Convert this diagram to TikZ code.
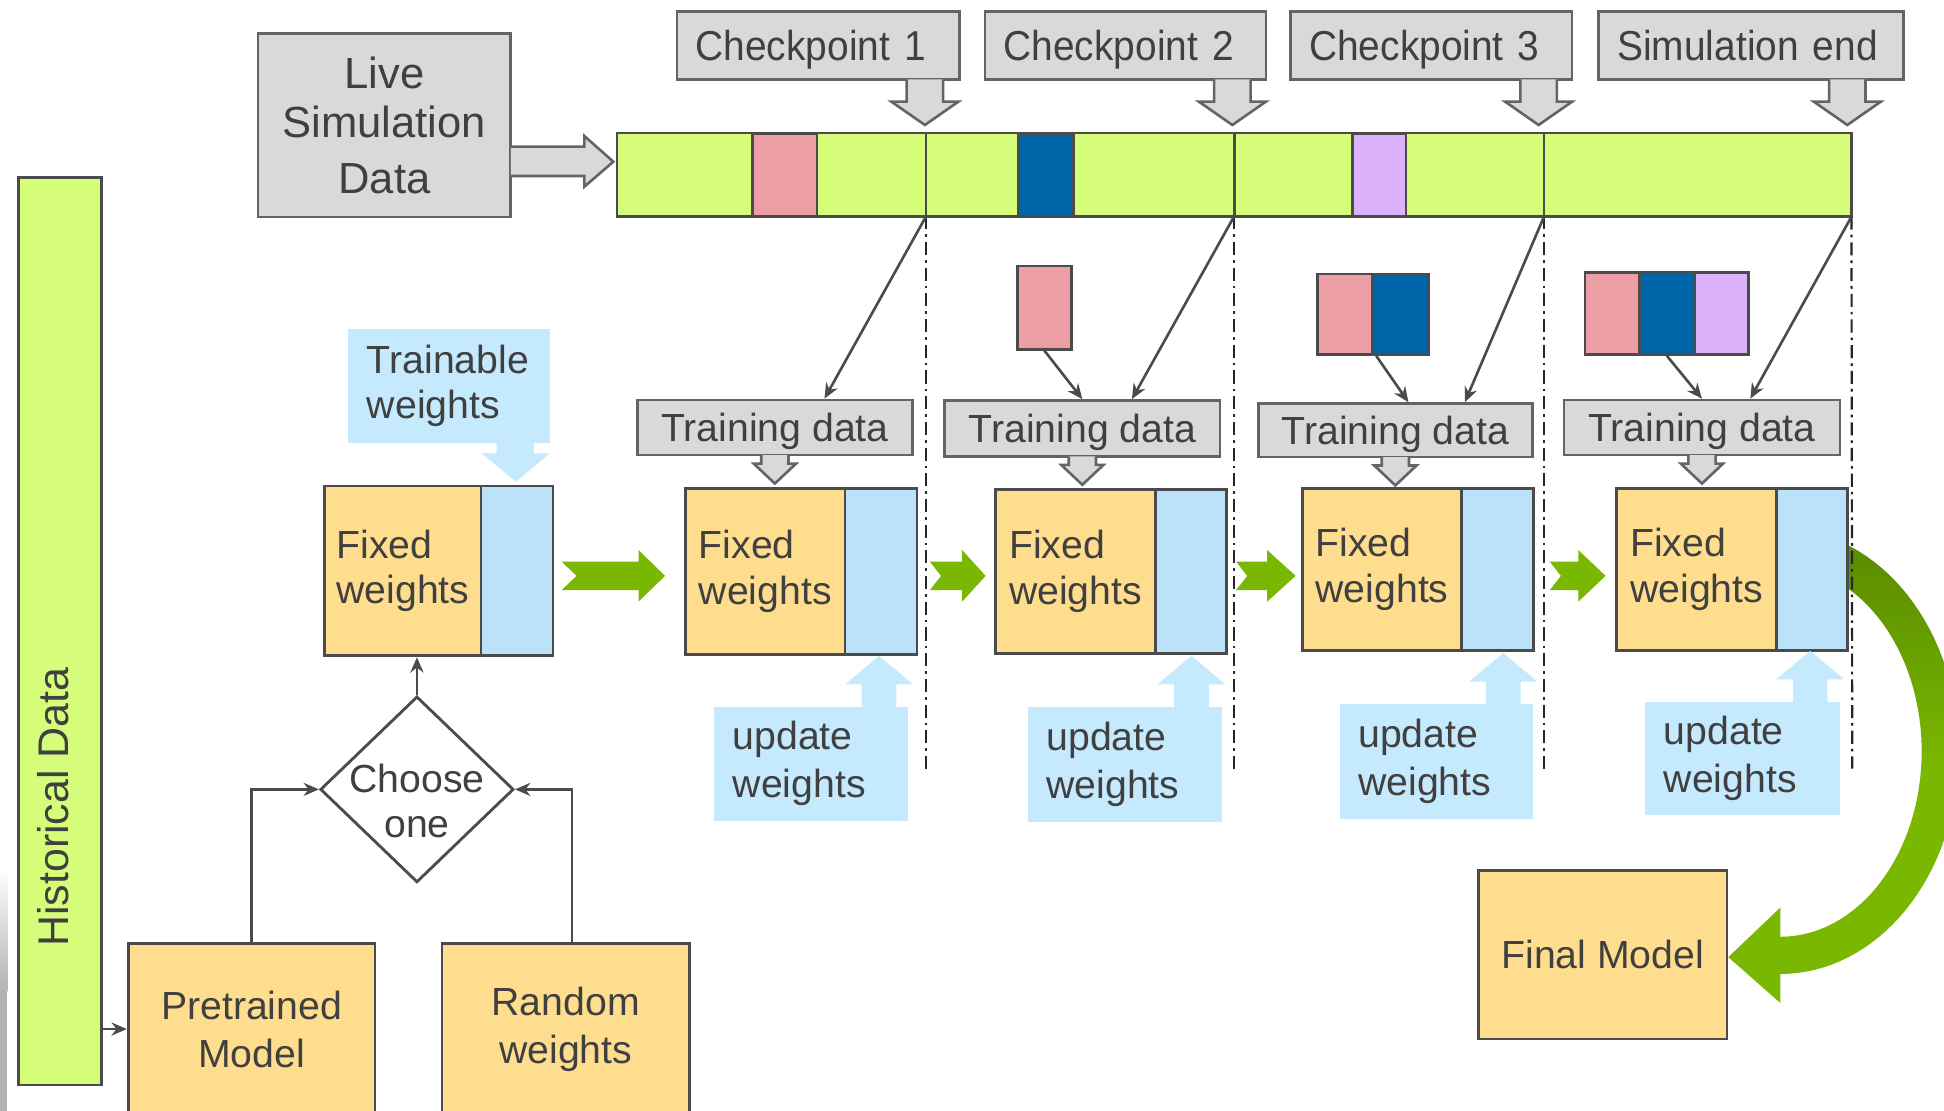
\documentclass[tikz,border=0pt]{standalone}
\usepackage{fontspec}
\setmainfont{Liberation Sans}
\newfontfamily\narrowsans{Liberation Sans}[FakeStretch=0.93]
\usetikzlibrary{arrows.meta,shapes.geometric,calc}

\definecolor{barGreen}{RGB}{213,253,122}
\definecolor{boxGray}{RGB}{217,217,217}
\definecolor{edgeGray}{RGB}{100,100,100}
\definecolor{edgeDark}{RGB}{75,75,75}
\definecolor{inkGray}{RGB}{64,64,64}
\definecolor{segPink}{RGB}{236,158,164}
\definecolor{segBlue}{RGB}{0,102,170}
\definecolor{segLilac}{RGB}{220,178,250}
\definecolor{wOrange}{RGB}{254,222,142}
\definecolor{wBlue}{RGB}{186,227,250}
\definecolor{callBlue}{RGB}{197,233,253}
\definecolor{flowGreen}{RGB}{122,183,0}
\definecolor{flowDark}{RGB}{88,138,0}

% rectangle node given by its corners (x1,y1)-(x2,y2), text centred
\newcommand\boxnode[7][]{%
  \pgfmathsetmacro\bxw{(#5-#3)*0.02}\pgfmathsetmacro\bxh{(#6-#4)*0.02}%
  \node[#1, minimum width=\bxw cm, minimum height=\bxh cm] (#2) at ({(#3+#5)/2},{(#4+#6)/2}) {#7};}
% rectangle node with left-aligned text and a 15 unit left margin
\newcommand\padbox[7][]{%
  \pgfmathsetmacro\bxw{(#5-#3-30)*0.02}\pgfmathsetmacro\bxh{(#6-#4)*0.02}%
  \node[#1, align=left, inner xsep=0.3cm, inner ysep=0pt, text width=\bxw cm, minimum height=\bxh cm] (#2) at ({(#3+#5)/2},{(#4+#6)/2}) {#7};}
% hollow block arrow pointing down: centre x, top y, shaft half, head half, head base y, tip y
\newcommand\hollowdown[6]{%
  \filldraw[hollow] ({#1-#3},#2) -- ({#1-#3},#5) -- ({#1-#4},#5) -- (#1,#6) -- ({#1+#4},#5) -- ({#1+#3},#5) -- ({#1+#3},#2);}
% notched green arrow: tail x, notch x, head base x, tip x
\newcommand\flowarrow[4]{%
  \fill[flow] (#1,453) -- (#3,453) -- (#3,443.6) -- (#4,464.5) -- (#3,485.3) -- (#3,476) -- (#1,476) -- (#2,464.5) -- cycle;}
% light blue arrow rising from a callout: tip x, callout top y
\newcommand\callup[2]{%
  \fill[callBlue] ({#1-14},{#2+1}) -- ({#1-14},{#2-18}) -- ({#1-27.5},{#2-18}) -- (#1,{#2-41}) -- ({#1+27.5},{#2-18}) -- ({#1+14},{#2-18}) -- ({#1+14},{#2+1}) -- cycle;}

\tikzset{
  txt/.style={text=inkGray, font=\fontsize{18pt}{21pt}\selectfont},
  oneline/.style={text depth=0pt},
  graybox/.style={draw=edgeGray, fill=boxGray, line width=1.2pt, inner sep=0pt, txt, align=center},
  cpbox/.style={graybox, oneline, font=\narrowsans\fontsize{19.2pt}{22pt}\selectfont},
  orangebox/.style={draw=edgeDark, fill=wOrange, line width=1.3pt, inner sep=0pt, txt, align=left},
  bluepart/.style={draw=edgeDark, fill=wBlue, line width=1.3pt, inner sep=0pt},
  callout/.style={fill=callBlue, txt},
  hollow/.style={fill=boxGray, draw=edgeGray, line width=1.2pt, line join=miter},
  seg/.style={draw=edgeDark, line width=1.2pt},
  conn/.style={draw=edgeDark, line width=1.2pt, -{Stealth[length=7pt,width=6pt]}},
  cutline/.style={draw=black!85, line width=1pt, dash pattern=on 6pt off 2.3pt on 1.2pt off 2.3pt},
  flow/.style={fill=flowGreen},
}

\begin{document}
\begin{tikzpicture}[x=0.02cm, y=-0.02cm]
\useasboundingbox (0,0) rectangle (1568,896);
\clip (0,0) rectangle (1568,896);
\fill[white] (0,0) rectangle (1568,896);
% soft grey edge at the lower left border
\shade[top color=white, bottom color=black!30] (0,700) rectangle (6,800);
\fill[black!30] (0,800) rectangle (6,896);

% historical data column
\boxnode[draw=edgeDark, fill=barGreen, line width=1.2pt, inner sep=0pt]{hist}{15}{143}{82}{875}{}
\node[txt, rotate=90, font=\fontsize{19.7pt}{22pt}\selectfont] (histlbl) at (43,651) {Historical Data};

% live simulation data
\boxnode[graybox, font=\fontsize{20pt}{22.5pt}\selectfont]{live}{208}{27}{412}{175}{Live\\Simulation\\[3.4pt]Data}
\filldraw[hollow] (412,118.3) -- (471.3,118.3) -- (471.3,109.7) -- (494.7,130.4) -- (471.3,150.6) -- (471.3,142) -- (412,142);

% simulation timeline
\boxnode[fill=barGreen, inner sep=0pt]{bar}{498}{107.5}{1493}{174.4}{}
\filldraw[seg, fill=segPink] (607,107.5) rectangle (659,174.4);
\filldraw[seg, fill=segBlue] (821,107.5) rectangle (866,174.4);
\filldraw[seg, fill=segLilac] (1091,107.5) rectangle (1134,174.4);
\coordinate (k1t) at (747,107.5);    \coordinate (k1) at (747,174.4);
\coordinate (k2t) at (995.5,107.5);  \coordinate (k2) at (995.5,174.4);
\coordinate (k3t) at (1245.5,107.5); \coordinate (k3) at (1245.5,174.4);
\coordinate (k4) at (bar.south east);
\draw[seg] (k1t) -- (k1) (k2t) -- (k2) (k3t) -- (k3);
\draw[seg] (bar.north west) rectangle (bar.south east);

% checkpoint labels
\padbox[cpbox]{cp1}{546}{9.4}{774}{64}{Checkpoint 1}
\padbox[cpbox]{cp2}{794.5}{9.4}{1021}{64}{Checkpoint 2}
\padbox[cpbox]{cp3}{1041}{9.4}{1268}{64}{Checkpoint 3}
\padbox[cpbox]{cpe}{1289.5}{9.4}{1535.5}{64}{Simulation end}
\hollowdown{746}{64}{14.7}{27}{82}{100.8}
\hollowdown{994}{64}{14.7}{27}{82}{100.8}
\hollowdown{1241}{64}{14.7}{27}{82}{100.8}
\hollowdown{1490}{64}{14.7}{27}{82}{100.8}

% curved arrow to the final model
\shade[top color=flowDark, bottom color=flowGreen, middle color=flowGreen]
  plot[domain=-75:90, samples=60] ({1436+144*cos(\x)},{606+179.6*sin(\x)})
  -- (1436,809) -- (1394,772) -- (1436,732)
  -- plot[domain=-90:75, samples=60] ({1436+114*cos(\x)},{606-149.6*sin(\x)})
  -- cycle;

% checkpoint cut lines
\draw[cutline] (k1) -- (747,620);
\draw[cutline] (k2) -- (995.5,620);
\draw[cutline] (k3) -- (1245.5,620);
\draw[cutline] (k4) -- (1494,620);

% training data boxes
\boxnode[graybox, oneline]{td1}{514}{322.6}{736}{367}{Training data}
\boxnode[graybox, oneline]{td2}{762}{323}{984}{368}{Training data}
\boxnode[graybox, oneline]{td3}{1015}{325.5}{1236}{368.7}{Training data}
\boxnode[graybox, oneline]{td4}{1261.5}{322.6}{1484}{367}{Training data}
\hollowdown{625}{367}{11}{17}{374}{390}
\hollowdown{873}{368}{11}{17}{375}{391}
\hollowdown{1125.5}{368.7}{11}{17}{375.5}{391.5}
\hollowdown{1372.75}{367}{11}{17}{374}{390}

% accumulated data blocks
\boxnode[seg, fill=segPink, inner sep=0pt]{b2p}{820.7}{214.6}{864}{281.7}{}
\boxnode[seg, fill=segPink, inner sep=0pt]{b3p}{1062.7}{221}{1107}{286}{}
\boxnode[seg, fill=segBlue, inner sep=0pt]{b3b}{1107}{221}{1152}{286}{}
\boxnode[seg, fill=segPink, inner sep=0pt]{b4p}{1278.4}{220}{1322.4}{286}{}
\boxnode[seg, fill=segBlue, inner sep=0pt]{b4b}{1322.4}{220}{1366.6}{286}{}
\boxnode[seg, fill=segLilac, inner sep=0pt]{b4l}{1366.6}{220}{1410.5}{286}{}

% data flowing into the training sets
\draw[conn] (k1) -- ($(td1.north)+(40,0)$);
\draw[conn] (k2) -- ($(td2.north)+(40,0)$);
\draw[conn] (k3) -- ($(td3.north)+(56,0)$);
\draw[conn] (k4) -- ($(td4.north)+(39,0)$);
\draw[conn] (b2p.south) -- (td2.north);
\draw[conn] ($(b3p.south east)+(2,0)$) -- ($(td3.north)+(10.5,0)$);
\draw[conn] (b4b.south) -- (td4.north);

% trainable weights callout
\padbox[callout]{trn}{281}{265}{443.6}{357.6}{Trainable\\weights}
\fill[callBlue] (400.6,357) -- (400.6,365.6) -- (388.5,365.6) -- (416,388.5) -- (443.6,365.6) -- (430.7,365.6) -- (430.7,357) -- cycle;

% model states
\boxnode[orangebox]{fw0a}{262}{392}{388}{529}{Fixed\\weights}
\boxnode[bluepart]{fw0b}{388}{392}{446}{529}{}
\boxnode[orangebox]{fw1a}{553}{394}{681.6}{528}{Fixed\\weights}
\boxnode[bluepart]{fw1b}{681.6}{394}{739.6}{528}{}
\boxnode[orangebox]{fw2a}{803}{395}{932}{527}{Fixed\\weights}
\boxnode[bluepart]{fw2b}{932}{395}{989}{527}{}
\boxnode[orangebox]{fw3a}{1050.6}{394}{1179}{525}{Fixed\\weights}
\boxnode[bluepart]{fw3b}{1179}{394}{1237}{525}{}
\boxnode[orangebox]{fw4a}{1304}{394}{1433}{525}{Fixed\\weights}
\boxnode[bluepart]{fw4b}{1433}{394}{1490}{525}{}

% green progress arrows
\flowarrow{453}{465}{515}{536.4}
\flowarrow{750}{759}{776}{795}
\flowarrow{997}{1006}{1022}{1045}
\flowarrow{1250}{1259}{1273}{1295}

% update weights callouts
\padbox[callout, font=\fontsize{18pt}{22pt}\selectfont]{uw1}{576}{570}{732.6}{662}{update\\weights}
\callup{709}{570}
\padbox[callout, font=\fontsize{18pt}{22pt}\selectfont]{uw2}{829}{570}{985.4}{662.6}{update\\weights}
\callup{961}{570}
\padbox[callout, font=\fontsize{18pt}{22pt}\selectfont]{uw3}{1080.6}{567.7}{1236.5}{660.8}{update\\weights}
\callup{1212.5}{567.7}
\padbox[callout, font=\fontsize{18pt}{22pt}\selectfont]{uw4}{1327}{566}{1484}{657.4}{update\\weights}
\callup{1460}{566}

% initial model choice
\node[draw=edgeDark, line width=1.3pt, fill=white, diamond, minimum width=3.12cm, minimum height=3cm, inner sep=0pt] (choose) at (336.3,636.7) {};
\node[txt, align=center] (chooselbl) at (336.3,646) {Choose\\one};
\boxnode[orangebox, align=center, font=\fontsize{18pt}{22pt}\selectfont]{pre}{103.4}{761}{302.5}{899}{Pretrained\\Model}
\boxnode[orangebox, align=center, font=\fontsize{18pt}{22pt}\selectfont]{rnd}{356.5}{761}{556}{899}{Random\\weights}
\draw[conn] (pre.north) |- (choose.west);
\draw[conn] ($(rnd.north)+(5,0)$) |- (choose.east);
\draw[conn] (choose.north) -- (choose.north |- fw0a.south);
\draw[conn] (hist.east |- pre.west) -- (pre.west);

% final model
\boxnode[orangebox, oneline, align=center]{final}{1192.5}{702}{1393}{838}{Final Model}
\end{tikzpicture}
\end{document}
